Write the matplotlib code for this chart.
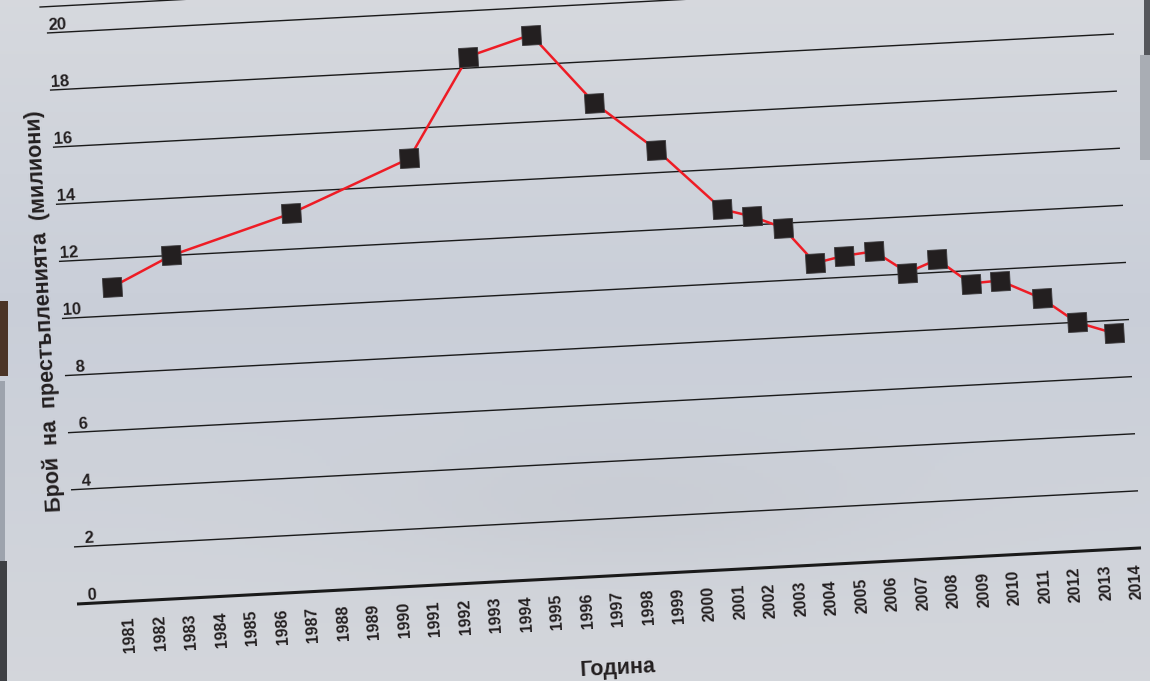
import numpy as np
import matplotlib.pyplot as plt
from matplotlib.transforms import Affine2D
from matplotlib.markers import MarkerStyle
from matplotlib.patches import Rectangle

plt.rcParams['font.family'] = ['Liberation Sans', 'DejaVu Sans']

# данни
tick_years = list(range(1981, 2015))
y_ticks = [0, 2, 4, 6, 8, 10, 12, 14, 16, 18, 20]
years = [1981, 1983, 1987, 1990.95, 1993.05, 1995.15, 1997.1, 1999.05, 2001.1,
         2002.05, 2003.05, 2004.05, 2005.0, 2006.0, 2007.05, 2008.05, 2009.1,
         2010.05, 2011.4, 2012.5, 2013.7]
crimes = [11.0, 12.0, 13.25, 14.95, 18.4, 19.05, 16.55, 14.8, 12.6, 12.3, 11.85,
          10.55, 10.75, 10.85, 10.05, 10.45, 9.55, 9.6, 8.9, 8.0, 7.55]

W, H = 1150, 681
fig = plt.figure(figsize=(W / 100, H / 100), dpi=100)

# фон (снимка)
bg = fig.add_axes([0, 0, 1, 1])
bg.axis('off')
yy = np.linspace(0, 1, 200)[:, None]
xx = np.linspace(0, 1, 300)[None, :]
top = np.array([0.84, 0.85, 0.87])
mid = np.array([0.79, 0.81, 0.85])
low = np.array([0.83, 0.84, 0.86])
t = yy + 0 * xx
img = np.where(t[..., None] < 0.45,
               top + (mid - top) * (t[..., None] / 0.45),
               mid + (low - mid) * ((t[..., None] - 0.45) / 0.55))
img = img - 0.02 * np.exp(-((xx - 0.55) ** 2) / 0.05)[..., None] * np.exp(-((yy - 0.75) ** 2) / 0.01)[..., None]
bg.imshow(np.clip(img, 0, 1), extent=[0, 1, 0, 1], aspect='auto', origin='upper')
bg.set_xlim(0, 1)
bg.set_ylim(0, 1)
# ръбове на снимката
bg.add_patch(Rectangle((0, 0), 7 / W, 120 / H, color='#3e4044', lw=0))
bg.add_patch(Rectangle((0, 120 / H), 5 / W, 180 / H, color='#9da3ad', lw=0))
bg.add_patch(Rectangle((0, 305 / H), 8 / W, 75 / H, color='#4b3426', lw=0))
bg.add_patch(Rectangle((1 - 6 / W, 1 - 55 / H), 6 / W, 55 / H, color='#55575c', lw=0))
bg.add_patch(Rectangle((1 - 10 / W, 1 - 160 / H), 10 / W, 105 / H, color='#a9adb4', lw=0))

# основна ос в "изправена" рамка, после завъртяна
ax = fig.add_axes([0, 0, 1, 1])
ax.axis('off')
ax.patch.set_alpha(0)

ANG = 3.016
OX, OY = 77, 77
X0, U0 = 1981, 51.4
PX_YEAR, PX_UNIT = 30.53, 28.59
rot = Affine2D().rotate_deg_around(OX, OY, ANG)
tr = ax.transData + rot

x_left = X0 - U0 / PX_YEAR
x_right = X0 + (1065.5 - U0) / PX_YEAR

for v in y_ticks:
    ax.plot([x_left, x_right], [v, v], color='#1a1a1a',
            lw=2.2 if v == 0 else 1.0, transform=tr, solid_capstyle='butt')
    ax.text(x_left + 20 / PX_YEAR, v + 3 / PX_UNIT, str(v), transform=tr,
            rotation=ANG, rotation_mode='anchor', ha='right', va='baseline',
            fontsize=12, fontweight='bold', color='#231f20')
ax.plot([x_left - 5.5 / PX_YEAR, x_right], [20.92, 20.92], color='#1a1a1a',
        lw=1.0, transform=tr)

for yr in tick_years:
    ax.text(yr, -15 / PX_UNIT, str(yr), transform=tr, rotation=90 + ANG,
            rotation_mode='anchor', ha='right', va='center',
            fontsize=11.5, fontweight='bold', color='#231f20')

marker = MarkerStyle('s', transform=Affine2D().rotate_deg(ANG))
ax.plot(years, crimes, color='#ee1c25', lw=1.8, transform=tr, zorder=3)
ax.plot(years, crimes, ls='none', marker=marker, markersize=13.7,
        markerfacecolor='#231f20', markeredgecolor='#3a383a', markeredgewidth=0.6,
        transform=tr, zorder=4)

ax.text(X0 + (536.9 - U0) / PX_YEAR, -92.4 / PX_UNIT, 'Година', transform=tr,
        rotation=ANG, rotation_mode='anchor', ha='center', va='center',
        fontsize=15.5, fontweight='bold', color='#231f20')
ax.text(X0 + (-17 - U0) / PX_YEAR, 294.4 / PX_UNIT,
        'Брой  на  престъпленията  (милиони)', transform=tr,
        rotation=90 + ANG, rotation_mode='anchor', ha='center', va='center',
        fontsize=15.5, fontweight='bold', color='#231f20')

ax.set_xlim(X0 + (-OX - U0) / PX_YEAR, X0 + (W - OX - U0) / PX_YEAR)
ax.set_ylim(-OY / PX_UNIT, (H - OY) / PX_UNIT)

fig.savefig('out.png', dpi=100)
